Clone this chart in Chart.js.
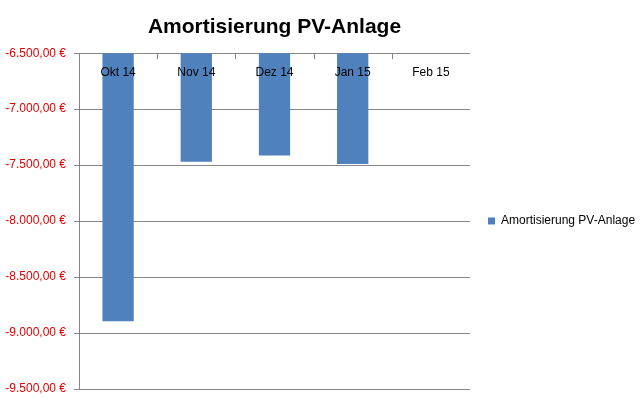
<!DOCTYPE html>
<html><head><meta charset="utf-8">
<script src="https://cdn.jsdelivr.net/npm/chart.js@4"></script>
<style>html,body{margin:0;padding:0;background:#fff}#wrap{width:643px;height:399px}</style>
</head><body><div id="wrap"><canvas id="c" width="643" height="399"></canvas></div>
<script>
const categories = ['Okt 14', 'Nov 14', 'Dez 14', 'Jan 15', 'Feb 15'];
const amortValues = [-8895, -7470, -7415, -7490, null];
const seriesName = 'Amortisierung PV-Anlage';
const yMin = -9500, yMax = -6500, yStep = 500;

function euro(v){
  const neg = v < 0; let a = Math.abs(v);
  let s = Math.round(a).toString().replace(/\B(?=(\d{3})+(?!\d))/g, '.');
  return (neg ? '-' : '') + s + ',00 €';
}

const topLabels = {
  id: 'topLabels',
  afterDatasetsDraw(chart){
    const ctx = chart.ctx, xs = chart.scales.x, ca = chart.chartArea;
    ctx.save();
    ctx.strokeStyle = '#868686'; ctx.lineWidth = 1;
    for (let i = 1; i < categories.length; i++) {
      const px = Math.round((xs.getPixelForValue(i - 1) + xs.getPixelForValue(i)) / 2);
      ctx.beginPath(); ctx.moveTo(px + 0.5, ca.top); ctx.lineTo(px + 0.5, ca.top + 6); ctx.stroke();
    }
    ctx.fillStyle = '#000';
    ctx.font = '12px "Liberation Sans", Arial, sans-serif';
    ctx.textAlign = 'center'; ctx.textBaseline = 'middle';
    categories.forEach((c, i) => {
      ctx.fillText(c, xs.getPixelForValue(i), ca.top + 19);
    });
    ctx.restore();
  }
};

new Chart(document.getElementById('c'), {
  type: 'bar',
  data: {
    labels: categories,
    datasets: [{
      label: seriesName,
      data: amortValues,
      backgroundColor: '#4F81BD',
      borderWidth: 0,
      categoryPercentage: 1.0,
      barPercentage: 0.4
    }]
  },
  options: {
    responsive: false,
    animation: false,
    events: [],
    layout: { padding: { top: 0, left: 0, right: 0, bottom: 10 } },
    plugins: {
      title: {
        display: true, text: seriesName, color: '#000', fullSize: false,
        font: { family: '"Liberation Sans", Arial, sans-serif', size: 21, weight: 'bold', lineHeight: 1.2 },
        padding: { top: 15, bottom: 13 }
      },
      legend: {
        position: 'right', fullSize: false, maxWidth: 173,
        labels: {
          boxWidth: 7, boxHeight: 7, padding: 18, color: '#000',
          font: { family: '"Liberation Sans", Arial, sans-serif', size: 12 }
        }
      },
      tooltip: { enabled: false }
    },
    scales: {
      x: { type: 'category', display: false, offset: true },
      y: {
        min: yMin, max: yMax,
        afterFit(scale){ scale.width = 79; scale.paddingTop = 0; scale.paddingBottom = 0; },
        ticks: {
          stepSize: yStep, color: '#E00000', padding: 8,
          font: { family: '"Liberation Sans", Arial, sans-serif', size: 12 },
          callback: v => euro(v)
        },
        grid: { color: '#868686', tickLength: 5, drawTicks: true },
        border: { display: true, color: '#868686' }
      }
    }
  },
  plugins: [topLabels]
});
</script></body></html>
